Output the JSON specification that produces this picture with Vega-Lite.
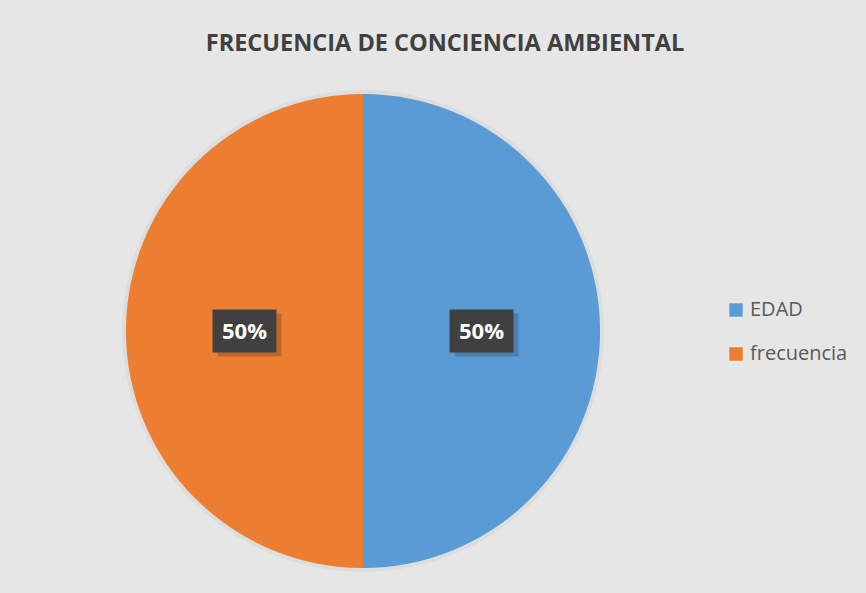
{
  "$schema": "https://vega.github.io/schema/vega-lite/v6.json",
  "width": 474,
  "height": 474,
  "autosize": {"type": "none"},
  "padding": {"left": 126, "top": 94, "right": 266, "bottom": 25},
  "background": "#e6e6e6",
  "title": {
    "text": "FRECUENCIA DE CONCIENCIA AMBIENTAL",
    "anchor": "middle",
    "dx": 82,
    "offset": 35,
    "font": "Open Sans",
    "fontSize": 23.5,
    "fontWeight": "bold",
    "color": "#404040"
  },
  "config": {"view": {"stroke": null}},
  "data": {
    "values": [
      {"categoria": "EDAD", "valor": 50, "etiqueta": "50%"},
      {"categoria": "frecuencia", "valor": 50, "etiqueta": "50%"}
    ]
  },
  "layer": [
    {
      "mark": {"type": "arc", "radius": 241, "color": "#000000", "opacity": 0.04},
      "encoding": {
        "theta": {"field": "valor", "type": "quantitative", "stack": true}
      }
    },
    {
      "mark": {"type": "arc"},
      "encoding": {
        "theta": {"field": "valor", "type": "quantitative", "stack": true},
        "color": {
          "field": "categoria",
          "type": "nominal",
          "scale": {"domain": ["EDAD", "frecuencia"], "range": ["#5b9bd5", "#ed7d31"]},
          "legend": {
            "orient": "none",
            "legendX": 600,
            "legendY": 206,
            "title": null,
            "symbolType": "square",
            "symbolSize": 180,
            "symbolStrokeWidth": 0,
            "labelFont": "Open Sans",
            "labelFontSize": 20,
            "labelColor": "#595959",
            "labelOffset": 4,
            "rowPadding": 24
          }
        }
      }
    },
    {
      "mark": {
        "type": "point",
        "shape": "M-0.84,-0.55L1.16,-0.55L1.16,0.8L-0.84,0.8Z",
        "size": 4096,
        "filled": true,
        "color": "#000000",
        "opacity": 0.18
      },
      "encoding": {
        "x": {
          "field": "categoria",
          "type": "nominal",
          "scale": {"type": "point", "domain": ["frecuencia", "EDAD"], "padding": 0.5},
          "axis": null
        }
      }
    },
    {
      "mark": {
        "type": "point",
        "shape": "M-1,-0.672L1,-0.672L1,0.672L-1,0.672Z",
        "size": 4096,
        "filled": true,
        "color": "#404040",
        "opacity": 1
      },
      "encoding": {
        "x": {
          "field": "categoria",
          "type": "nominal",
          "scale": {"type": "point", "domain": ["frecuencia", "EDAD"], "padding": 0.5},
          "axis": null
        }
      }
    },
    {
      "mark": {
        "type": "text",
        "font": "Open Sans",
        "fontSize": 22,
        "fontWeight": "bold",
        "color": "white",
        "dy": 1
      },
      "encoding": {
        "x": {
          "field": "categoria",
          "type": "nominal",
          "scale": {"type": "point", "domain": ["frecuencia", "EDAD"], "padding": 0.5},
          "axis": null
        },
        "text": {"field": "etiqueta"}
      }
    }
  ]
}
